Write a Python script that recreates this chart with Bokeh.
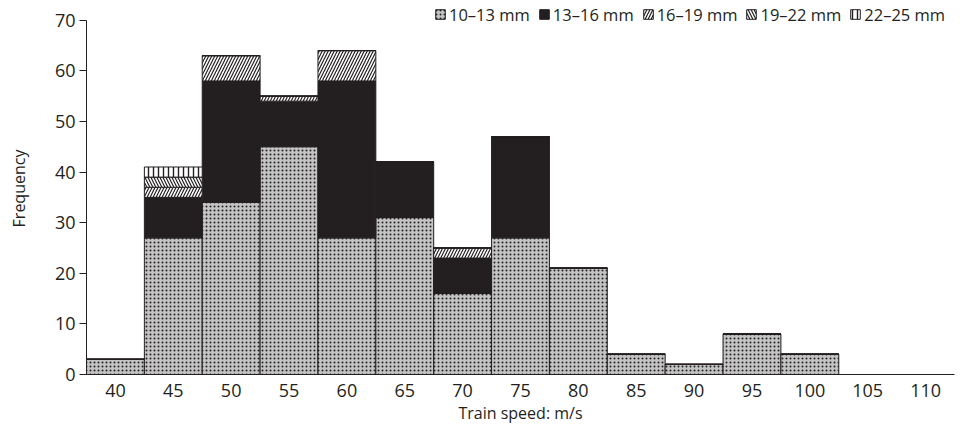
from bokeh.plotting import figure
from bokeh.models import ColumnDataSource, Range1d, FixedTicker, Legend, LegendItem
from bokeh.embed import file_html
from bokeh.resources import INLINE

speeds = [40, 45, 50, 55, 60, 65, 70, 75, 80, 85, 90, 95, 100]
s10_13 = [3, 27, 34, 45, 27, 31, 16, 27, 21, 4, 2, 8, 4]
s13_16 = [0, 8, 24, 9, 31, 11, 7, 20, 0, 0, 0, 0, 0]
s16_19 = [0, 2, 5, 1, 6, 0, 2, 0, 0, 0, 0, 0, 0]
s19_22 = [0, 2, 0, 0, 0, 0, 0, 0, 0, 0, 0, 0, 0]
s22_25 = [0, 2, 0, 0, 0, 0, 0, 0, 0, 0, 0, 0, 0]
labels = ["10\u201313 mm", "13\u201316 mm", "16\u201319 mm", "19\u201322 mm", "22\u201325 mm"]
x_ticks = [40, 45, 50, 55, 60, 65, 70, 75, 80, 85, 90, 95, 100, 105, 110]
y_ticks = [0, 10, 20, 30, 40, 50, 60, 70]

keys = ["a", "b", "c", "d", "e"]
source = ColumnDataSource(dict(x=speeds, a=s10_13, b=s13_16, c=s16_19, d=s19_22, e=s22_25))

FONT = "Open Sans"
TXT = "#231f20"

p = figure(width=955, height=427, output_backend="svg", toolbar_location=None,
           x_range=Range1d(37.5, 112.5), y_range=Range1d(0, 73.5),
           min_border_left=86, min_border_right=1, min_border_top=2, min_border_bottom=53)
p.outline_line_color = None
p.xgrid.grid_line_color = None
p.ygrid.grid_line_color = None

fills = ["#c4c4c4", "#231f20", "white", "white", "white"]
hatches = ["dot", " ", "right_diagonal_line", "left_diagonal_line", "vertical_line"]
scales = [4, 6, 6, 6, 5]
weights = [4, 1, 1.2, 1.2, 1.4]

renderers = p.vbar_stack(keys, x="x", width=5, source=source,
                         fill_color=fills, line_color="#231f20", line_width=1,
                         hatch_pattern=hatches, hatch_color="#231f20",
                         hatch_scale=scales, hatch_weight=weights)

legend = Legend(items=[LegendItem(label=l, renderers=[r]) for l, r in zip(labels, renderers)],
                orientation="horizontal", location=(348, 348),
                glyph_width=12, glyph_height=12, label_standoff=3, spacing=8,
                padding=0, margin=0, border_line_color=None, background_fill_alpha=0,
                label_text_font=FONT, label_text_font_size="16.5px", label_text_color=TXT,
                label_height=24)
p.add_layout(legend, "center")

p.xaxis.ticker = FixedTicker(ticks=x_ticks)
p.yaxis.ticker = FixedTicker(ticks=y_ticks)
p.yaxis.bounds = (0, 70)
p.xaxis.major_tick_line_color = None
p.xaxis.minor_tick_line_color = None
p.yaxis.minor_tick_line_color = None
p.yaxis.major_tick_out = 7
p.yaxis.major_tick_in = 0
p.xaxis.major_label_standoff = 3
p.yaxis.major_label_standoff = 4
for ax in (p.xaxis, p.yaxis):
    ax.axis_line_color = "#231f20"
    ax.major_label_text_font = FONT
    ax.major_label_text_font_size = "18px"
    ax.major_label_text_color = TXT
    ax.axis_label_text_font = FONT
    ax.axis_label_text_font_size = "16px"
    ax.axis_label_text_font_style = "normal"
    ax.axis_label_text_color = TXT
p.yaxis.major_tick_line_color = "#231f20"
p.xaxis.axis_label = "Train speed: m/s"
p.yaxis.axis_label = "Frequency"
p.xaxis.axis_label_standoff = 2
p.yaxis.axis_label_standoff = 22

open("out.html", "w").write(file_html(p, INLINE))
